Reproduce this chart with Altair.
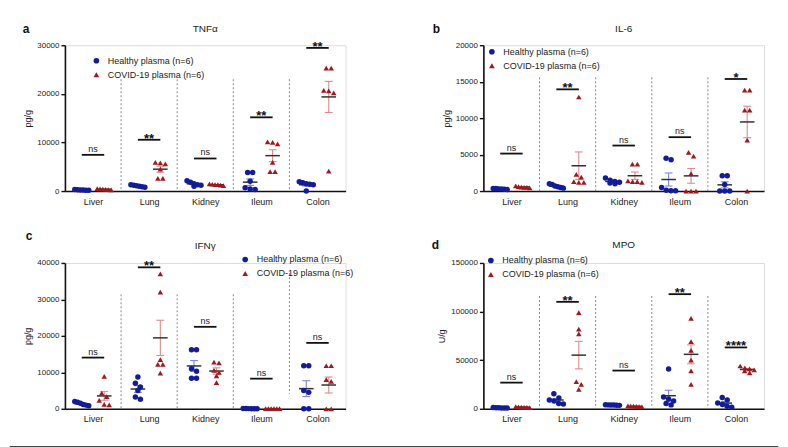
import altair as alt
import pandas as pd

organs = ["Liver", "Lung", "Kidney", "Ileum", "Colon"]
groups = ["Healthy plasma (n=6)", "COVID-19 plasma (n=6)"]

# TNFα (pg/g), one list of 6 per organ
tnfa_healthy = [[150, 200, 250, 200, 300, 180], [800, 1000, 1100, 1200, 1300, 900],
                [1000, 1200, 1500, 1800, 2100, 1300], [3800, 3800, 2000, 700, 300, 400],
                [1900, 1700, 1500, 1400, 1300, 0]]
tnfa_covid = [[300, 400, 500, 350, 450, 250], [5800, 5600, 5900, 4500, 2600, 2600],
              [1200, 1300, 1400, 1500, 1100, 1300], [10000, 9700, 10100, 5900, 4000, 4000],
              [25300, 25300, 20700, 20200, 20600, 4100]]
tnfa_sig = ["ns", "**", "ns", "**", "**"]
tnfa_sig_y = [7450, 10550, 6700, 15170, 29450]

# IL-6 (pg/g)
il6_healthy = [[300, 250, 350, 300, 200, 350], [1000, 900, 700, 500, 400, 600],
               [1800, 1500, 1300, 1200, 1100, 1000], [4500, 4300, 500, 100, 50, 50],
               [2100, 2100, 900, 0, 0, 0]]
il6_covid = [[600, 500, 550, 450, 700, 500], [12900, 2300, 1900, 1200, 1200, 1300],
             [3700, 3700, 1400, 1200, 1300, 1300], [4800, 5300, 2400, 0, 0, 0],
             [13850, 13850, 11100, 11100, 6970, 0]]
il6_sig = ["ns", "**", "ns", "ns", "*"]
il6_sig_y = [5140, 13950, 6240, 7390, 15370]

# IFNγ (pg/g)
ifng_healthy = [[2000, 1500, 1000, 1200, 800, 1800], [8700, 7000, 6000, 5000, 3200, 2600],
                [16200, 16200, 11000, 10300, 8400, 8400], [50, 30, 40, 60, 20, 30],
                [11800, 11800, 5000, 4500, 0, 0]]
ifng_covid = [[8900, 4300, 3300, 2300, 1200, 1100], [37000, 32000, 13500, 12200, 12200, 9800],
              [12800, 12600, 10500, 10000, 9000, 7200], [40, 30, 20, 50, 30, 40],
              [11800, 11800, 8000, 7500, 0, 0]]
ifng_sig = ["ns", "**", "ns", "ns", "ns"]
ifng_sig_y = [14040, 38800, 22480, 8260, 18070]

# MPO (U/g)
mpo_healthy = [[800, 1000, 1200, 900, 700, 1100], [15500, 11000, 9000, 8000, 5500, 5000],
               [3500, 4000, 3800, 3600, 4200, 3900], [41000, 12000, 10000, 8000, 5500, 4000],
               [11500, 9000, 6000, 4500, 2500, 1500]]
mpo_covid = [[1500, 2000, 1800, 1200, 2200, 1500], [99000, 82000, 77000, 28000, 25000, 20000],
             [2500, 2000, 3000, 2200, 2800, 2600], [93000, 69000, 60000, 50000, 39000, 25000],
             [44000, 42000, 41000, 40000, 39000, 37000]]
mpo_sig = ["ns", "**", "ns", "**", "****"]
mpo_sig_y = [26900, 110000, 39300, 117900, 63100]

BLUE, RED = "#121c98", "#a3161b"
EBLUE, ERED = "#8087dc", "#dc8c8c"
FONT = "Liberation Sans"
W, H = 281, 146


def swarm(vals, ymax, height, step=5.0):
    order = sorted(range(len(vals)), key=lambda i: -vals[i])
    rows = []
    for i in order:
        y = vals[i] / ymax * height
        if rows and abs(rows[-1][0] - y) < 4.5:
            rows[-1][1].append(i)
        else:
            rows.append([y, [i]])
    offs = [0.0] * len(vals)
    for _, idx in rows:
        k = len(idx)
        s = step if k <= 3 else min(step, 14.0 / (k - 1))
        for j, i in enumerate(idx):
            offs[i] = (j - (k - 1) / 2) * s
    return offs


def panel(letter, title, ytitle, ymax, ticks, healthy, covid, sig, sig_y,
          sep_top, sep_bot, lx, ly, letter_pos, frame=False):
    ppu = W / 5
    recs = []
    for gi, data in enumerate([healthy, covid]):
        for oi, vals in enumerate(data):
            center = oi + (-0.2 if gi == 0 else 0.2)
            for v, o in zip(vals, swarm(vals, ymax, H)):
                recs.append(dict(group=groups[gi], center=center, x=center + o / ppu, v=v,
                                 ecol=EBLUE if gi == 0 else ERED))
    df = pd.DataFrame(recs)

    xs = alt.Scale(domain=[-0.5, 4.5], nice=False, zero=False)
    xa = alt.Axis(values=[0, 1, 2, 3, 4], title=None, grid=False, ticks=False,
                  labelExpr="[" + ",".join("'%s'" % o for o in organs) + "][datum.value]",
                  labelFontSize=9, labelPadding=6, domainWidth=1.6, domainColor="#111",
                  labelColor="#222", labelFont=FONT)
    ys = alt.Scale(domain=[0, ymax], nice=False, zero=True)
    ya = alt.Axis(values=ticks, title=ytitle, format="d", grid=False, tickSize=4,
                  tickWidth=1.4, tickColor="#111", domainWidth=1.6, domainColor="#111",
                  labelFontSize=8, labelPadding=2, labelColor="#222", labelFont=FONT,
                  titleFontSize=9, titleFontWeight="normal", titlePadding=4,
                  titleColor="#222", titleFont=FONT)

    def X(f):
        return alt.X(f, type="quantitative", scale=xs, axis=xa)

    def Y(f):
        return alt.Y(f, type="quantitative", scale=ys, axis=ya)

    sep = pd.DataFrame(dict(sx=[0.5, 1.5, 2.5, 3.5], top=sep_top, bot=sep_bot))
    seps = alt.Chart(sep).mark_rule(color="#8a8a8a", strokeDash=[2, 2], strokeWidth=1).encode(
        x=X("sx"), y=Y("top"), y2="bot")

    pts = alt.Chart(df).mark_point(filled=True, size=30, opacity=1).encode(
        x=X("x"), y=Y("v"),
        color=alt.Color("group:N", scale=alt.Scale(domain=groups, range=[BLUE, RED]),
                        legend=alt.Legend(orient="none", legendX=lx, legendY=ly, title=None,
                                          labelFontSize=9, labelColor="#222", labelFont=FONT,
                                          symbolSize=32, symbolStrokeWidth=0, rowPadding=4,
                                          labelOffset=7, padding=0)),
        shape=alt.Shape("group:N", scale=alt.Scale(domain=groups, range=["circle", "triangle-up"])),
    )

    agg = alt.Chart(df).transform_aggregate(
        m="mean(v)", se="stderr(v)", groupby=["group", "center", "ecol"]
    ).transform_calculate(
        lo="datum.m - datum.se", hi="datum.m + datum.se",
        xl="datum.center - 0.13", xr="datum.center + 0.13",
        cl="datum.center - 0.07", cr="datum.center + 0.07")
    ebar = agg.mark_rule(strokeWidth=1.1).encode(
        x=X("center"), y=Y("lo"), y2="hi", color=alt.Color("ecol:N", scale=None))
    cap_lo = agg.mark_rule(strokeWidth=1.1).encode(
        x=X("cl"), x2="cr", y=Y("lo"), color=alt.Color("ecol:N", scale=None))
    cap_hi = agg.mark_rule(strokeWidth=1.1).encode(
        x=X("cl"), x2="cr", y=Y("hi"), color=alt.Color("ecol:N", scale=None))
    mean = agg.mark_rule(strokeWidth=1.5, color="#333").encode(x=X("xl"), x2="xr", y=Y("m"))

    sdf = pd.DataFrame(dict(sx1=[i - 0.2 for i in range(5)], sx2=[i + 0.2 for i in range(5)],
                            sc=list(range(5)), sy=sig_y, lab=sig))
    sline = alt.Chart(sdf).mark_rule(strokeWidth=1.8, color="#111").encode(
        x=X("sx1"), x2="sx2", y=Y("sy"))
    ns_txt = alt.Chart(sdf).transform_filter("datum.lab == 'ns'").mark_text(
        fontSize=9, font=FONT, color="#222", baseline="alphabetic", dy=-3).encode(
        x=X("sc"), y=Y("sy"), text="lab:N")
    st_txt = alt.Chart(sdf).transform_filter("datum.lab != 'ns'").mark_text(
        fontSize=13, font=FONT, fontWeight="bold", color="#111", baseline="alphabetic", dy=3).encode(
        x=X("sc"), y=Y("sy"), text="lab:N")

    tdf = pd.DataFrame(dict(t=[title]))
    ttl = alt.Chart(tdf).mark_text(fontSize=10, font=FONT, color="#222", baseline="middle").encode(
        x=alt.value(W / 2), y=alt.value(letter_pos[2]), text="t:N")
    ldf = pd.DataFrame(dict(t=[letter]))
    let = alt.Chart(ldf).mark_text(fontSize=12, font=FONT, fontWeight="bold", color="#111",
                                   baseline="middle").encode(
        x=alt.value(letter_pos[0]), y=alt.value(letter_pos[1]), text="t:N")

    layers = [seps, ebar, cap_lo, cap_hi, mean, pts, sline, ns_txt, st_txt, ttl, let]
    if frame:
        # bottom edge of the figure frame, drawn relative to this panel
        fdf = pd.DataFrame(dict(t=[0]))
        bottom = alt.Chart(fdf).mark_rule(color="#444", strokeWidth=1.5).encode(
            x=alt.value(-474.25), x2=alt.value(295.25), y=alt.value(184))
        layers += [bottom]
    return alt.layer(*layers).properties(width=W, height=H)


pa = panel("a", "TNFα", "pg/g", 30000, [0, 10000, 20000, 30000], tnfa_healthy, tnfa_covid,
           tnfa_sig, tnfa_sig_y, [23000] * 4, [0] * 4, 27, 11, (-39, -16, -16))
pb = panel("b", "IL-6", "pg/g", 20000, [0, 5000, 10000, 15000, 20000], il6_healthy, il6_covid,
           il6_sig, il6_sig_y, [15600] * 4, [0] * 4, 4, 2, (-47, -16, -16))
pc = panel("c", "IFNγ", "pg/g", 40000, [0, 10000, 20000, 30000, 40000], ifng_healthy, ifng_covid,
           ifng_sig, ifng_sig_y, [31400, 31400, 31400, 37200], [0, 0, 0, 4100], 176, -8,
           (-36, -27, -17))
pd_ = panel("d", "MPO", "U/g", 150000, [0, 50000, 100000, 150000], mpo_healthy, mpo_covid,
            mpo_sig, mpo_sig_y, [116000] * 4, [0] * 4, 3, -7, (-48, -18, -18), frame=True)

chart = alt.concat(pa, pb, pc, pd_, columns=2, bounds="flush",
                   spacing={"row": 72, "column": 138}).resolve_scale(
    color="independent", shape="independent", x="independent", y="independent"
).properties(padding={"left": 0, "top": 14, "right": 0, "bottom": 0}).configure_view(
    stroke=None).configure(font=FONT)

chart.save("out.html", embed_options={"renderer": "svg", "actions": False})
